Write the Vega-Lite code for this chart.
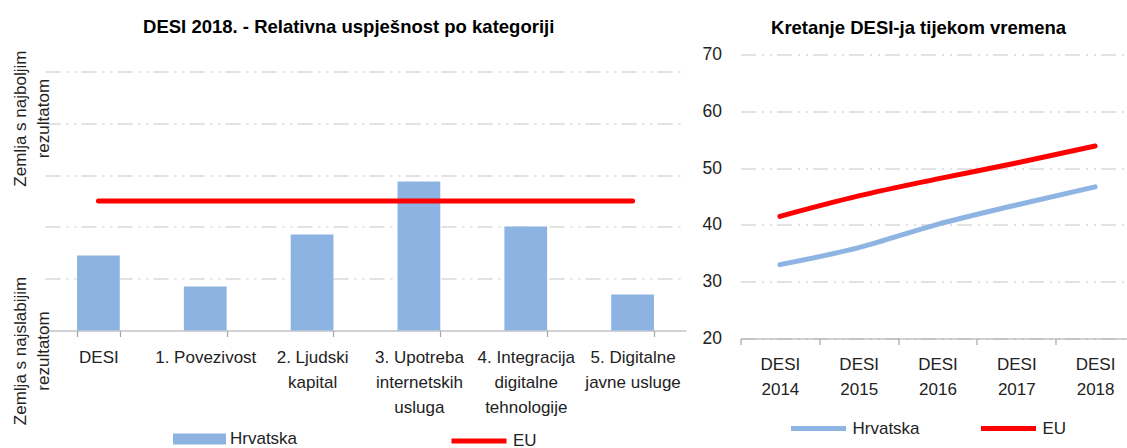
{
  "$schema": "https://vega.github.io/schema/vega-lite/v6.json",
  "background": "white",
  "padding": {"left": 11, "top": 17.5, "right": 0, "bottom": 0},
  "spacing": 15.5,
  "resolve": {"scale": {"stroke": "independent", "fill": "independent", "x": "independent", "y": "independent"}, "legend": {"stroke": "independent", "fill": "independent"}},
  "config": {
    "font": "Liberation Sans",
    "view": {"stroke": null},
    "title": {"font": "Liberation Sans", "fontSize": 18.5, "fontWeight": "bold", "color": "#000000", "anchor": "middle", "frame": "bounds"},
    "axis": {"labelFont": "Liberation Sans", "labelColor": "#222222", "labelFontSize": 17, "gridColor": "#d9d9d9", "gridWidth": 1.5, "gridDash": [15, 6, 2, 6, 2, 5], "domainColor": "#a6a6a6", "tickColor": "#a6a6a6", "domainWidth": 1.2, "tickWidth": 1.2},
    "legend": {"labelFont": "Liberation Sans", "labelFontSize": 17, "labelColor": "#222222", "padding": 0, "labelOffset": 4}
  },
  "hconcat": [
    {
      "title": {"text": "DESI 2018. - Relativna uspješnost po kategoriji", "offset": 14},
      "width": 641,
      "height": 276,
      "data": {"values": [
        {"cat": "DESI", "hr": 29.0, "eu": 50},
        {"cat": "1. Povezivost", "hr": 17.0, "eu": 50},
        {"cat": "2. Ljudski|kapital", "hr": 37.1, "eu": 50},
        {"cat": "3. Upotreba|internetskih|usluga", "hr": 57.5, "eu": 50},
        {"cat": "4. Integracija|digitalne|tehnologije", "hr": 40.2, "eu": 50},
        {"cat": "5. Digitalne|javne usluge", "hr": 13.9, "eu": 50}
      ]},
      "encoding": {
        "x": {"field": "cat", "type": "nominal", "sort": null,
          "scale": {"paddingInner": 0.6, "paddingOuter": 0.3},
          "axis": {"title": null, "labelAngle": 0, "labelExpr": "split(datum.label, '|')", "labelLineHeight": 25, "labelPadding": 13, "tickSize": 6, "tickBand": "extent"}
        }
      },
      "layer": [
        {
          "mark": {"type": "bar"},
          "encoding": {
            "y": {"field": "hr", "type": "quantitative",
              "scale": {"domain": [0, 106.56], "nice": false},
              "axis": {"title": null, "values": [0, 20, 40, 60, 80, 82, 100], "grid": true,
                "gridColor": {"condition": {"test": "datum.value == 82 || datum.value == 0", "value": "transparent"}, "value": "#d9d9d9"},
                "ticks": false, "domain": false, "labelAngle": -90, "labelAlign": "center", "labelBaseline": "middle",
                "labelPadding": 24.6, "labelOverlap": false, "labelFlush": false, "labelFontSize": 17, "labelLineHeight": 23,
                "labelOffset": {"condition": {"test": "datum.value == 0", "value": 20}, "value": 0},
                "labelExpr": "datum.value == 82 ? ['Zemlja s najboljim', 'rezultatom'] : datum.value == 0 ? ['Zemlja s najslabijim', 'rezultatom'] : ''"}
            },
            "fill": {"datum": "Hrvatska", "type": "nominal", "scale": {"range": ["#8db3e2"]},
              "legend": {"title": null, "orient": "none", "legendX": 128, "legendY": 358, "symbolType": "M-1,-0.2075H1V0.2075H-1Z", "symbolSize": 2809, "symbolStrokeWidth": 0}
            }
          }
        },
        {
          "mark": {"type": "line", "strokeWidth": 5, "strokeCap": "round"},
          "encoding": {
            "y": {"field": "eu", "type": "quantitative"},
            "stroke": {"datum": "EU", "type": "nominal", "scale": {"range": ["#ff0000"]},
              "legend": {"title": null, "orient": "none", "legendX": 404, "legendY": 356.5, "symbolType": "stroke", "symbolSize": 3025, "symbolStrokeWidth": 5}
            }
          }
        }
      ]
    },
    {
      "title": {"text": "Kretanje DESI-ja tijekom vremena", "offset": 8.5},
      "width": 394,
      "height": 284,
      "data": {"values": [
        {"year": "DESI|2014", "series": "Hrvatska", "value": 33.0},
        {"year": "DESI|2015", "series": "Hrvatska", "value": 36.0},
        {"year": "DESI|2016", "series": "Hrvatska", "value": 40.1},
        {"year": "DESI|2017", "series": "Hrvatska", "value": 43.5},
        {"year": "DESI|2018", "series": "Hrvatska", "value": 46.7},
        {"year": "DESI|2014", "series": "EU", "value": 41.5},
        {"year": "DESI|2015", "series": "EU", "value": 45.1},
        {"year": "DESI|2016", "series": "EU", "value": 48.1},
        {"year": "DESI|2017", "series": "EU", "value": 50.9},
        {"year": "DESI|2018", "series": "EU", "value": 53.9}
      ]},
      "mark": {"type": "line", "strokeWidth": 5, "strokeCap": "round", "strokeJoin": "round", "interpolate": "monotone"},
      "encoding": {
        "x": {"field": "year", "type": "nominal", "sort": null,
          "scale": {"type": "band", "paddingInner": 0, "paddingOuter": 0},
          "axis": {"title": null, "labelAngle": 0, "labelExpr": "split(datum.label, '|')", "labelLineHeight": 25, "labelPadding": 12, "tickSize": 6, "tickBand": "extent"}
        },
        "y": {"field": "value", "type": "quantitative",
          "scale": {"domain": [20, 70], "nice": false},
          "axis": {"title": null, "values": [20, 30, 40, 50, 60, 70], "grid": true, "domain": false, "ticks": false, "labelPadding": 19, "labelFontSize": 17.5}
        },
        "stroke": {"field": "series", "type": "nominal", "sort": ["Hrvatska", "EU"],
          "scale": {"domain": ["Hrvatska", "EU"], "range": ["#8eb4e3", "#ff0000"]},
          "legend": {"title": null, "orient": "none", "direction": "horizontal", "legendX": 48, "legendY": 344, "symbolType": "stroke", "symbolSize": 3025, "symbolStrokeWidth": 5, "columnPadding": 50}
        }
      }
    }
  ]
}
